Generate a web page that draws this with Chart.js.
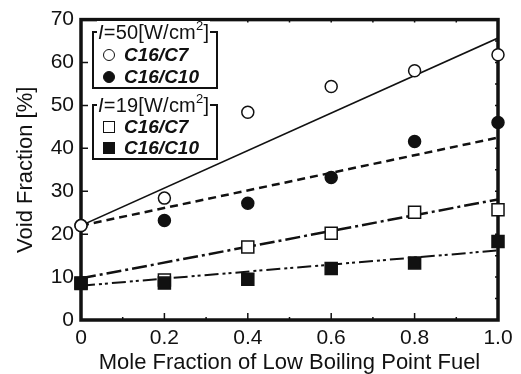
<!DOCTYPE html>
<html>
<head>
<meta charset="utf-8">
<script src="https://cdn.jsdelivr.net/npm/chart.js@4.4.1/dist/chart.umd.min.js"></script>
<style>
  html, body { margin: 0; padding: 0; background: #fff; }
  #wrap { position: relative; width: 521px; height: 374px; }
  .key { position: absolute; left: 92px; width: 126px; box-sizing: border-box;
         border: 2px solid #111; background: #fff; color: #111;
         font-family: Arial, "Liberation Sans", sans-serif; }
  .key .head { position: absolute; left: 3px; top: -12px; padding: 0 1px; background: #fff;
               font-size: 20px; line-height: 22px; white-space: nowrap; letter-spacing: 0.2px; }
  .key .head sup { font-size: 13px; line-height: 0; position: relative; top: -1px; }
  .key .row { position: absolute; left: 9px; height: 22px; display: flex; align-items: center;
              font-size: 19px; font-weight: bold; font-style: italic; white-space: nowrap; }
  .mk { box-sizing: border-box; width: 12px; height: 12px; border: 1.5px solid #111; margin-right: 9px; }
  .mk.circle { border-radius: 50%; }
  .mk.fill { background: #111; }
</style>
</head>
<body>
<div id="wrap">
  <canvas id="chart" width="521" height="374"></canvas>

  <div class="key" style="top:31px; height:58px;">
    <span class="head"><i>I</i>=50[W/cm<sup>2</sup>]</span>
    <div class="row" style="top:11px;"><span class="mk circle"></span>C16/C7</div>
    <div class="row" style="top:33px;"><span class="mk circle fill"></span>C16/C10</div>
  </div>
  <div class="key" style="top:104px; height:56px;">
    <span class="head"><i>I</i>=19[W/cm<sup>2</sup>]</span>
    <div class="row" style="top:10px;"><span class="mk"></span>C16/C7</div>
    <div class="row" style="top:31px;"><span class="mk fill"></span>C16/C10</div>
  </div>
</div>

<script>
// mole fraction of the low boiling point fuel
const fractions = [0, 0.2, 0.4, 0.6, 0.8, 1.0];
const xTickLabels = ['0', '0.2', '0.4', '0.6', '0.8', '1.0'];

// void fraction [%], I = 50 W/cm2
const highC7 = [22, 28.4, 48.4, 54.4, 58.1, 61.8];
const highC10 = [22, 23.2, 27.2, 33.2, 41.6, 46.0];
// void fraction [%], I = 19 W/cm2
const lowC7 = [8.6, 9.3, 17.0, 20.2, 25.1, 25.7];
const lowC10 = [8.5, 8.6, 9.5, 12.0, 13.3, 18.3];

// straight fit lines, value at x = 0 and x = 1.0
const fitX = [0, 1.0];
const fitHighC7 = [22, 65.7];
const fitHighC10 = [22, 42.5];
const fitLowC7 = [9.7, 28.1];
const fitLowC10 = [8.0, 16.2];

const INK = '#111';
const FONT = 'Arial, "Liberation Sans", sans-serif';

function pts(xs, ys) {
  return xs.map((x, i) => ({ x: x, y: ys[i] }));
}

function markers(data, style, radius, fill, order) {
  return {
    data: data, showLine: false, clip: false, order: order,
    pointStyle: style, pointRadius: radius, pointHoverRadius: radius,
    pointBackgroundColor: fill, pointBorderColor: INK, pointBorderWidth: 1.5
  };
}

function fitLine(data, width, dash) {
  return {
    data: data, showLine: true, pointRadius: 0, borderColor: INK,
    borderWidth: width, borderDash: dash, order: 10, tension: 0
  };
}

// box around the plot with inward ticks
const frame = {
  id: 'frame',
  beforeDatasetsDraw(chart) {
    const { ctx, chartArea: a, scales: { x, y } } = chart;
    ctx.save();
    ctx.strokeStyle = INK;
    ctx.lineWidth = 1.5;
    ctx.beginPath();
    for (let i = 1; i < 10; i++) {
      const px = x.getPixelForValue(i / 10);
      const len = i % 2 === 0 ? 7 : 3;
      ctx.moveTo(px, a.bottom); ctx.lineTo(px, a.bottom - len);
      ctx.moveTo(px, a.top); ctx.lineTo(px, a.top + 3);
    }
    for (let v = 5; v < 70; v += 5) {
      const py = y.getPixelForValue(v);
      if (v % 10 === 0) { ctx.moveTo(a.left, py); ctx.lineTo(a.left + 7, py); }
      ctx.moveTo(a.right, py); ctx.lineTo(a.right - 3, py);
    }
    ctx.stroke();
    ctx.lineWidth = 3.5;
    ctx.strokeRect(a.left, a.top, a.right - a.left, a.bottom - a.top);
    ctx.restore();
  }
};

new Chart(document.getElementById('chart'), {
  type: 'scatter',
  data: {
    datasets: [
      markers(pts(fractions, highC7), 'circle', 6, '#fff', 0),
      markers(pts(fractions, highC10), 'circle', 6, INK, 1),
      markers(pts(fractions, lowC10), 'rect', 8.5, INK, 2),
      markers(pts(fractions, lowC7), 'rect', 8.5, '#fff', 3),
      fitLine(pts(fitX, fitHighC7), 1.5, []),
      fitLine(pts(fitX, fitHighC10), 2.5, [8, 5]),
      fitLine(pts(fitX, fitLowC7), 2.5, [15, 4, 3, 4]),
      fitLine(pts(fitX, fitLowC10), 2, [14, 4, 3, 3, 3, 4])
    ]
  },
  options: {
    responsive: false,
    animation: false,
    devicePixelRatio: 1,
    layout: { padding: { left: 0, top: 14, right: 23, bottom: 0 } },
    plugins: { legend: { display: false }, tooltip: { enabled: false } },
    scales: {
      x: {
        type: 'linear', min: 0, max: 1,
        afterFit: s => { s.height = 54; },
        grid: { display: false, drawTicks: false },
        border: { display: false },
        ticks: {
          stepSize: 0.2, padding: 6, color: INK,
          font: { family: FONT, size: 21 },
          callback: (v, i) => xTickLabels[i]
        },
        title: {
          display: true, text: 'Mole Fraction of Low Boiling Point Fuel', color: INK,
          font: { family: FONT, size: 22 }, padding: { top: 0, bottom: -2 }
        }
      },
      y: {
        min: 0, max: 70,
        afterFit: s => { s.width = 81; },
        grid: { display: false, drawTicks: false },
        border: { display: false },
        ticks: { stepSize: 10, padding: 7, color: INK, font: { family: FONT, size: 21 } },
        title: {
          display: true, text: 'Void Fraction [%]', color: INK,
          font: { family: FONT, size: 22 }, padding: { top: 13, bottom: 0 }
        }
      }
    }
  },
  plugins: [frame]
});
</script>
</body>
</html>
